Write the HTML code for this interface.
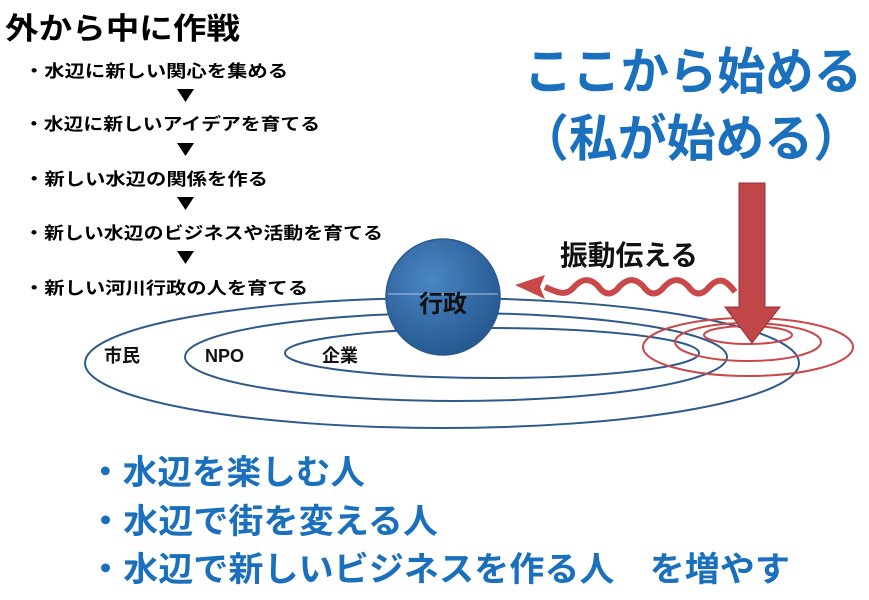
<!DOCTYPE html>
<html><head><meta charset="utf-8"><style>
html,body{margin:0;padding:0;background:#fff;}
svg{display:block;}
text{font-family:"Liberation Sans","Noto Sans CJK JP",sans-serif;font-weight:bold;}
</style></head><body>
<svg width="869" height="600" viewBox="0 0 869 600" xmlns="http://www.w3.org/2000/svg">
<defs>
<radialGradient id="g" cx="40%" cy="35%" r="70%">
<stop offset="0" stop-color="#4a86c4"/><stop offset="1" stop-color="#24568e"/>
</radialGradient>
</defs>
<text x="5" y="39" font-size="30" textLength="235" lengthAdjust="spacingAndGlyphs" fill="#000">外から中に作戦</text>
<g font-size="17" fill="#000">
<text x="24" y="77" textLength="264" lengthAdjust="spacingAndGlyphs">・水辺に新しい関心を集める</text>
<text x="24" y="130" textLength="296" lengthAdjust="spacingAndGlyphs">・水辺に新しいアイデアを育てる</text>
<text x="24" y="185" textLength="244" lengthAdjust="spacingAndGlyphs">・新しい水辺の関係を作る</text>
<text x="24" y="239" textLength="359" lengthAdjust="spacingAndGlyphs">・新しい水辺のビジネスや活動を育てる</text>
<text x="24" y="294" textLength="284" lengthAdjust="spacingAndGlyphs">・新しい河川行政の人を育てる</text>
</g>
<g fill="#000">
<polygon points="177,89 194,89 185.5,102"/>
<polygon points="177,143 194,143 185.5,156"/>
<polygon points="177,197 194,197 185.5,210"/>
<polygon points="177,251 194,251 185.5,264"/>
</g>
<g fill="none" stroke="#2d5a8a" stroke-width="2">
<ellipse cx="442" cy="363" rx="357" ry="65"/>
<ellipse cx="456" cy="357" rx="271" ry="44"/>
<ellipse cx="492" cy="353" rx="207" ry="25"/>
</g>
<ellipse cx="443" cy="297" rx="57" ry="58" fill="url(#g)" stroke="#2b5a8c" stroke-width="1.5"/>
<line x1="388" y1="294" x2="498" y2="294" stroke="#a9c6e4" stroke-width="1"/>
<text x="443" y="312" font-size="24" text-anchor="middle" fill="#111">行政</text>
<g font-size="18" fill="#111">
<text x="104" y="362">市民</text>
<text x="205" y="362">NPO</text>
<text x="322" y="362">企業</text>
</g>
<g fill="none" stroke="#c9484a" stroke-width="2">
<ellipse cx="748" cy="347" rx="105" ry="29"/>
<ellipse cx="748" cy="342" rx="73" ry="19"/>
<ellipse cx="748" cy="335" rx="44" ry="9"/>
</g>
<polygon points="739,183 765,183 765,307 780,307 752,343 725,307 739,307" fill="#c0464a" stroke="#8f3234" stroke-width="1"/>
<path d="M735,292 C725,278 718,278 710,286 C702,296 695,296 688,286 C680,278 673,278 665,286 C657,296 650,296 643,286 C635,278 628,278 620,286 C612,296 605,296 598,286 C590,278 583,278 575,286 C567,296 560,294 545,287" fill="none" stroke="#c9484a" stroke-width="6"/>
<polygon points="515,285 545,275 540,287 545,299" fill="#c9484a"/>
<text x="560" y="265" font-size="28" textLength="138" lengthAdjust="spacingAndGlyphs" fill="#111">振動伝える</text>
<g fill="#1a70bd">
<text x="524" y="89" font-size="50" textLength="338" lengthAdjust="spacingAndGlyphs">ここから始める</text>
<text x="520" y="156" font-size="50" textLength="342" lengthAdjust="spacingAndGlyphs">（私が始める）</text>
</g>
<g fill="#1a70bd" font-size="34">
<text x="88" y="484" textLength="277" lengthAdjust="spacingAndGlyphs">・水辺を楽しむ人</text>
<text x="88" y="533" textLength="350" lengthAdjust="spacingAndGlyphs">・水辺で街を変える人</text>
<text x="88" y="581" textLength="702" lengthAdjust="spacingAndGlyphs">・水辺で新しいビジネスを作る人　を増やす</text>
</g>
</svg>
</body></html>
